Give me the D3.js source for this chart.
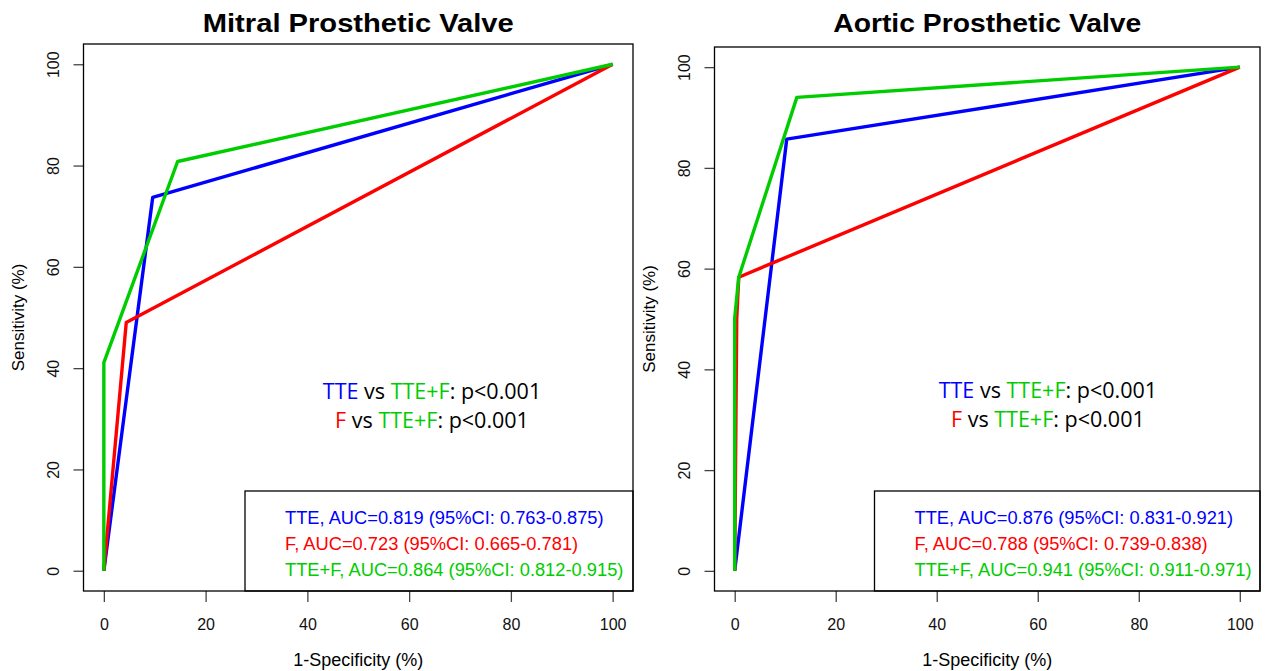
<!DOCTYPE html>
<html lang="en">
<head>
<meta charset="UTF-8">
<title>ROC curves</title>
<script src="https://cdn.jsdelivr.net/npm/d3@7"></script>
<style>
  body { margin: 0; background: #fff; }
  text { font-family: "Liberation Sans", Arial, sans-serif; }
</style>
</head>
<body>
<svg></svg>
<script>
  // ticks shared by both panels
  const axisTicks = [0, 20, 40, 60, 80, 100];

  // ROC points as [1-specificity, sensitivity] in %
  const mitralTTE = [[0, 0], [9.6, 73.7], [100, 100]];
  const mitralF = [[0, 0], [4.4, 49.0], [100, 100]];
  const mitralTTEF = [[0, 0], [0, 41.1], [14.5, 80.8], [100, 100]];

  const aorticTTE = [[0, 0], [10.3, 85.7], [100, 100]];
  const aorticF = [[0, 0], [0.4, 50], [0.8, 58.3], [100, 100]];
  const aorticTTEF = [[0, 0], [0, 50.2], [0.8, 58.3], [12.3, 94], [100, 100]];

  const mitralLegend = [
    'TTE, AUC=0.819 (95%CI: 0.763-0.875)',
    'F, AUC=0.723 (95%CI: 0.665-0.781)',
    'TTE+F, AUC=0.864 (95%CI: 0.812-0.915)'
  ];
  const aorticLegend = [
    'TTE, AUC=0.876 (95%CI: 0.831-0.921)',
    'F, AUC=0.788 (95%CI: 0.739-0.838)',
    'TTE+F, AUC=0.941 (95%CI: 0.911-0.971)'
  ];

  const colors = ['#0000ff', '#ff0000', '#00cd00'];

  const svg = d3.select('svg').attr('width', 1267).attr('height', 671);

  function drawPanel(opt) {
    // R style: axis range extended 4% on each side
    const x = d3.scaleLinear().domain([-4, 104]).range([opt.left, opt.right]);
    const y = d3.scaleLinear().domain([-4, 104]).range([opt.bottom, opt.top]);
    const g = svg.append('g');

    g.append('text')
      .attr('x', (opt.left + opt.right) / 2)
      .attr('y', 32)
      .attr('text-anchor', 'middle')
      .attr('font-size', 26)
      .attr('font-weight', 'bold')
      .attr('textLength', opt.titleWidth)
      .attr('lengthAdjust', 'spacingAndGlyphs')
      .text(opt.title);

    // x axis
    const xa = g.append('g').attr('transform', `translate(0,${opt.bottom})`)
      .call(d3.axisBottom(x).tickValues(axisTicks).tickSize(11).tickPadding(17));
    xa.select('.domain').remove();
    xa.selectAll('line').attr('stroke', '#444').attr('stroke-width', 1.3);
    xa.selectAll('text').attr('font-size', 16).attr('fill', '#111')
      .style('font-family', '"Liberation Sans", Arial, sans-serif');

    // y axis
    const ya = g.append('g').attr('transform', `translate(${opt.left},0)`)
      .call(d3.axisLeft(y).tickValues(axisTicks).tickSize(10));
    ya.select('.domain').remove();
    ya.selectAll('line').attr('stroke', '#444').attr('stroke-width', 1.3);
    ya.selectAll('text')
      .attr('font-size', 16).attr('fill', '#111')
      .style('font-family', '"Liberation Sans", Arial, sans-serif')
      .attr('text-anchor', 'middle')
      .attr('x', 0).attr('dy', 0)
      .attr('transform', 'translate(-31,0) rotate(-90)')
      .attr('y', 6);

    g.append('text')
      .attr('transform', `translate(${opt.left - 60},${(opt.top + opt.bottom) / 2}) rotate(-90)`)
      .attr('text-anchor', 'middle')
      .attr('font-size', 17)
      .text('Sensitivity (%)');

    g.append('text')
      .attr('x', (opt.left + opt.right) / 2)
      .attr('y', opt.bottom + 75)
      .attr('text-anchor', 'middle')
      .attr('font-size', 18)
      .text('1-Specificity (%)');

    // curves
    const line = d3.line().x(d => x(d[0])).y(d => y(d[1]));
    opt.series.forEach((s, i) => {
      g.append('path')
        .datum(s)
        .attr('d', line)
        .attr('fill', 'none')
        .attr('stroke', colors[i])
        .attr('stroke-width', 3.4)
        .attr('stroke-linejoin', 'round');
    });

    // p-value notes
    const cx = x(opt.noteX);
    const notes = [
      [['TTE', colors[0]], [' vs ', '#000'], ['TTE+F', colors[2]], [': p<0.001', '#000']],
      [['F', colors[1]], [' vs ', '#000'], ['TTE+F', colors[2]], [': p<0.001', '#000']]
    ];
    notes.forEach((parts, i) => {
      const t = g.append('text')
        .attr('x', cx)
        .attr('y', y(opt.noteY) + i * 29)
        .attr('text-anchor', 'middle')
        .attr('font-size', 21.5)
        .style('font-family', '"Open Sans", "Noto Sans", sans-serif');
      parts.forEach(p => t.append('tspan').attr('fill', p[1]).text(p[0]));
    });

    // legend box
    g.append('rect')
      .attr('x', opt.legendX)
      .attr('y', opt.legendY)
      .attr('width', opt.right - opt.legendX)
      .attr('height', opt.bottom - opt.legendY)
      .attr('fill', '#fff')
      .attr('stroke', '#000')
      .attr('stroke-width', 1.3);
    opt.legend.forEach((txt, i) => {
      g.append('text')
        .attr('x', opt.legendX + 40)
        .attr('y', opt.legendY + 33 + i * 26)
        .attr('font-size', 18.3)
        .attr('fill', colors[i])
        .text(txt);
    });

    // plot box
    g.append('rect')
      .attr('x', opt.left).attr('y', opt.top)
      .attr('width', opt.right - opt.left)
      .attr('height', opt.bottom - opt.top)
      .attr('fill', 'none')
      .attr('stroke', '#000')
      .attr('stroke-width', 1.3);
  }

  drawPanel({
    title: 'Mitral Prosthetic Valve',
    titleWidth: 311,
    left: 83.5, right: 633, top: 44, bottom: 591,
    series: [mitralTTE, mitralF, mitralTTEF],
    legend: mitralLegend,
    legendX: 245, legendY: 491,
    noteX: 64.5, noteY: 34
  });

  drawPanel({
    title: 'Aortic Prosthetic Valve',
    titleWidth: 308,
    left: 714.5, right: 1260, top: 47, bottom: 591,
    series: [aorticTTE, aorticF, aorticTTEF],
    legend: aorticLegend,
    legendX: 874.5, legendY: 491,
    noteX: 62, noteY: 34.4
  });
</script>
</body>
</html>
